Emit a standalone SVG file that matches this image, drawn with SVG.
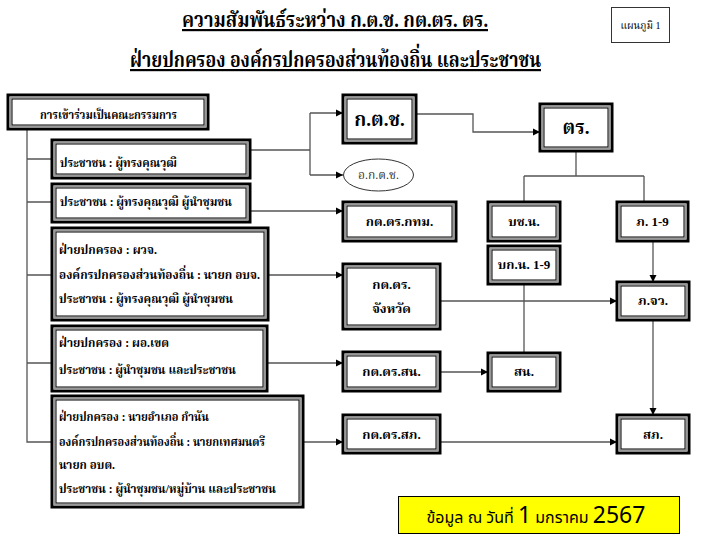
<svg xmlns="http://www.w3.org/2000/svg" width="702" height="538" viewBox="0 0 702 538">
<defs>
<marker id="ah" markerWidth="8" markerHeight="8" refX="7" refY="4" orient="auto" markerUnits="userSpaceOnUse">
<path d="M0,0.5 L7,4 L0,7.5 Z" fill="#000"/>
</marker>
</defs>
<style>
.o{fill:#fff;stroke:#000;stroke-width:3}
.m{fill:none;stroke:#999;stroke-width:2}
.i{fill:none;stroke:#000;stroke-width:1}
.t{font-family:"Liberation Serif","Noto Serif Thai","Noto Sans Thai",serif;font-weight:bold;font-size:13px;fill:#000}
.c{text-anchor:middle}
.big{font-size:19px}
.ttl{font-family:"Liberation Serif","Noto Serif Thai","Noto Sans Thai",serif;font-weight:bold;font-size:22px;text-decoration:underline}
.ln{fill:none;stroke:#555;stroke-width:1.3}
.ar{marker-end:url(#ah)}
</style>
<rect width="702" height="538" fill="#fff"/>
<g id="title">
<text class="ttl" x="182" y="27" textLength="306" lengthAdjust="spacingAndGlyphs">ความสัมพันธ์ระหว่าง ก.ต.ช. กต.ตร. ตร.</text>
<text class="ttl" x="130" y="67" textLength="411" lengthAdjust="spacingAndGlyphs">ฝ่ายปกครอง องค์กรปกครองส่วนท้องถิ่น และประชาชน</text>
</g>
<g id="chart-no">
<rect x="611.5" y="7.5" width="58" height="35" fill="#fff" stroke="#333" stroke-width="1"/>
<text x="640.5" y="29" font-family="Liberation Serif, Noto Serif Thai, serif" font-size="10" text-anchor="middle">แผนภูมิ 1</text>
</g>
<g id="connectors">
<path class="ln" d="M27,129 V442 H51 M27,159 H51 M27,202 H51 M27,275 H51 M27,363 H51"/>
<path class="ln" d="M250,150 H310 M310,113 V175"/>
<path class="ln ar" d="M310,113 H343"/>
<path class="ln ar" d="M310,175 H343"/>
<path class="ln ar" d="M250,211 H343"/>
<path class="ln ar" d="M268,275 H343"/>
<path class="ln ar" d="M267,363 H343"/>
<path class="ln ar" d="M303,442 H343"/>
<path class="ln ar" d="M416,114 H473 V132 H540"/>
<path class="ln" d="M576,151 V176 M524,176 H644 M524,176 V202 M644,176 V202"/>
<path class="ln" d="M524,284 V353"/>
<path class="ln ar" d="M440,301 H617"/>
<path class="ln ar" d="M440,372 H488"/>
<path class="ln ar" d="M653,241 V282"/>
<path class="ln ar" d="M653,320 V415"/>
<path class="ln ar" d="M440,442 H617"/>
</g>
<g id="n-committee">
<rect class="o" x="8" y="95" width="200" height="34"/><rect class="m" x="10.5" y="97.5" width="195" height="29"/><rect class="i" x="12" y="99" width="192" height="26"/>
<text class="t" x="40" y="119" textLength="137" lengthAdjust="spacingAndGlyphs">การเข้าร่วมเป็นคณะกรรมการ</text>
</g>
<g id="n-people1">
<rect class="o" x="52" y="140" width="198" height="38"/><rect class="m" x="54.5" y="142.5" width="193" height="33"/><rect class="i" x="56" y="144" width="190" height="30"/>
<text class="t" x="60" y="167" textLength="117" lengthAdjust="spacingAndGlyphs">ประชาชน : ผู้ทรงคุณวุฒิ</text>
</g>
<g id="n-people2">
<rect class="o" x="52" y="184" width="198" height="38"/><rect class="m" x="54.5" y="186.5" width="193" height="33"/><rect class="i" x="56" y="188" width="190" height="30"/>
<text class="t" x="60" y="206" textLength="172" lengthAdjust="spacingAndGlyphs">ประชาชน : ผู้ทรงคุณวุฒิ  ผู้นำชุมชน</text>
</g>
<g id="n-province">
<rect class="o" x="52" y="228" width="216" height="92"/><rect class="m" x="54.5" y="230.5" width="211" height="87"/><rect class="i" x="56" y="232" width="208" height="84"/>
<text class="t" x="59" y="254" textLength="98" lengthAdjust="spacingAndGlyphs">ฝ่ายปกครอง :  ผวจ.</text>
<text class="t" x="59" y="279" textLength="201" lengthAdjust="spacingAndGlyphs">องค์กรปกครองส่วนท้องถิ่น : นายก อบจ.</text>
<text class="t" x="59" y="303" textLength="174" lengthAdjust="spacingAndGlyphs">ประชาชน  : ผู้ทรงคุณวุฒิ  ผู้นำชุมชน</text>
</g>
<g id="n-district">
<rect class="o" x="52" y="326" width="215" height="65"/><rect class="m" x="54.5" y="328.5" width="210" height="60"/><rect class="i" x="56" y="330" width="207" height="57"/>
<text class="t" x="59" y="347" textLength="110" lengthAdjust="spacingAndGlyphs">ฝ่ายปกครอง :  ผอ.เขต</text>
<text class="t" x="59" y="374" textLength="177" lengthAdjust="spacingAndGlyphs">ประชาชน  : ผู้นำชุมชน และประชาชน</text>
</g>
<g id="n-amphoe">
<rect class="o" x="52" y="396" width="251" height="111"/><rect class="m" x="54.5" y="398.5" width="246" height="106"/><rect class="i" x="56" y="400" width="243" height="103"/>
<text class="t" x="59" y="421" textLength="150" lengthAdjust="spacingAndGlyphs">ฝ่ายปกครอง :  นายอำเภอ กำนัน</text>
<text class="t" x="59" y="446" textLength="206" lengthAdjust="spacingAndGlyphs">องค์กรปกครองส่วนท้องถิ่น : นายกเทศมนตรี</text>
<text class="t" x="59" y="469" textLength="56" lengthAdjust="spacingAndGlyphs">นายก อบต.</text>
<text class="t" x="59" y="493" textLength="217" lengthAdjust="spacingAndGlyphs">ประชาชน  : ผู้นำชุมชน/หมู่บ้าน และประชาชน</text>
</g>
<g id="n-kotch">
<rect class="o" x="343" y="95" width="73" height="48"/><rect class="m" x="345.5" y="97.5" width="68" height="43"/><rect class="i" x="347" y="99" width="65" height="40"/>
<text class="t c big" x="379.5" y="126">ก.ต.ช.</text>
</g>
<g id="n-okotch">
<ellipse cx="378.5" cy="175" rx="35" ry="16" fill="#fff" stroke="#333" stroke-width="1"/>
<text x="378.5" y="179" font-family="Liberation Serif, Noto Serif Thai, serif" font-size="12" text-anchor="middle" fill="#333">อ.ก.ต.ช.</text>
</g>
<g id="n-bkk">
<rect class="o" x="343" y="202" width="113" height="39"/><rect class="m" x="345.5" y="204.5" width="108" height="34"/><rect class="i" x="347" y="206" width="105" height="31"/>
<text class="t c" x="399.5" y="226">กต.ตร.กทม.</text>
</g>
<g id="n-kottrprov">
<rect class="o" x="343" y="264" width="97" height="65"/><rect class="m" x="345.5" y="266.5" width="92" height="60"/><rect class="i" x="347" y="268" width="89" height="57"/>
<text class="t c" x="391.5" y="289">กต.ตร.</text>
<text class="t c" x="391.5" y="313">จังหวัด</text>
</g>
<g id="n-kottrsn">
<rect class="o" x="343" y="352" width="97" height="39"/><rect class="m" x="345.5" y="354.5" width="92" height="34"/><rect class="i" x="347" y="356" width="89" height="31"/>
<text class="t c" x="391.5" y="376">กต.ตร.สน.</text>
</g>
<g id="n-kottrsp">
<rect class="o" x="343" y="415" width="97" height="38"/><rect class="m" x="345.5" y="417.5" width="92" height="33"/><rect class="i" x="347" y="419" width="89" height="30"/>
<text class="t c" x="391.5" y="439">กต.ตร.สภ.</text>
</g>
<g id="n-tr">
<rect class="o" x="540" y="104" width="72" height="47"/><rect class="m" x="542.5" y="106.5" width="67" height="42"/><rect class="i" x="544" y="108" width="64" height="39"/>
<text class="t c big" x="576" y="134">ตร.</text>
</g>
<g id="n-bchn">
<rect class="o" x="488" y="202" width="72" height="39"/><rect class="m" x="490.5" y="204.5" width="67" height="34"/><rect class="i" x="492" y="206" width="64" height="31"/>
<text class="t c" x="524" y="226">บช.น.</text>
</g>
<g id="n-bkn">
<rect class="o" x="488" y="246" width="72" height="38"/><rect class="m" x="490.5" y="248.5" width="67" height="33"/><rect class="i" x="492" y="250" width="64" height="30"/>
<text class="t c" x="524" y="269">บก.น. 1-9</text>
</g>
<g id="n-sn">
<rect class="o" x="488" y="353" width="72" height="38"/><rect class="m" x="490.5" y="355.5" width="67" height="33"/><rect class="i" x="492" y="357" width="64" height="30"/>
<text class="t c" x="524" y="376">สน.</text>
</g>
<g id="n-p19">
<rect class="o" x="617" y="202" width="71" height="39"/><rect class="m" x="619.5" y="204.5" width="66" height="34"/><rect class="i" x="621" y="206" width="63" height="31"/>
<text class="t c" x="652.5" y="226">ภ. 1-9</text>
</g>
<g id="n-pjv">
<rect class="o" x="617" y="282" width="72" height="38"/><rect class="m" x="619.5" y="284.5" width="67" height="33"/><rect class="i" x="621" y="286" width="64" height="30"/>
<text class="t c" x="653" y="305">ภ.จว.</text>
</g>
<g id="n-sp">
<rect class="o" x="617" y="415" width="72" height="38"/><rect class="m" x="619.5" y="417.5" width="67" height="33"/><rect class="i" x="621" y="419" width="64" height="30"/>
<text class="t c" x="653" y="439">สภ.</text>
</g>
<g id="n-date">
<rect x="398.5" y="496.5" width="281" height="37" fill="#ffff00" stroke="#000" stroke-width="1"/>
<text x="536" y="523" font-family="Noto Sans Thai, Noto Sans, Liberation Sans, sans-serif" font-size="16" text-anchor="middle" fill="#000">ข้อมูล ณ วันที่ <tspan font-size="23">1</tspan> มกราคม <tspan font-size="23">2567</tspan></text>
</g>
</svg>
